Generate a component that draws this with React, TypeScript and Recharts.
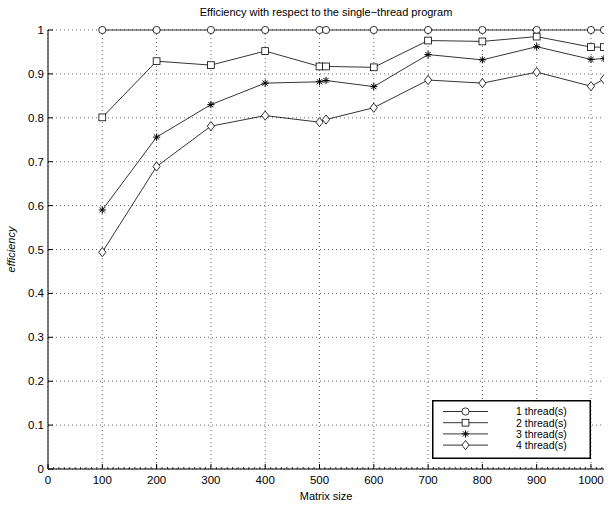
import React from "react";
import { LineChart, Line, XAxis, YAxis, CartesianGrid, Legend } from "recharts";

const sizes = [100, 200, 300, 400, 500, 512, 600, 700, 800, 900, 1000, 1024];
const thread1 = [1, 1, 1, 1, 1, 1, 1, 1, 1, 1, 1, 1];
const thread2 = [0.801, 0.929, 0.92, 0.952, 0.917, 0.917, 0.915, 0.976, 0.974, 0.985, 0.961, 0.961];
const thread3 = [0.59, 0.756, 0.83, 0.879, 0.882, 0.885, 0.871, 0.944, 0.932, 0.962, 0.933, 0.935];
const thread4 = [0.494, 0.689, 0.781, 0.805, 0.79, 0.796, 0.823, 0.886, 0.879, 0.904, 0.872, 0.888];
const xTicks = [0, 100, 200, 300, 400, 500, 600, 700, 800, 900, 1000];
const xMinorTicks = Array.from({ length: 103 }, (_, i) => i * 10);
const yTicks = [0, 0.1, 0.2, 0.3, 0.4, 0.5, 0.6, 0.7, 0.8, 0.9, 1];
const seriesNames = ["1 thread(s)", "2 thread(s)", "3 thread(s)", "4 thread(s)"];
const seriesKeys = ["t1", "t2", "t3", "t4"];
const markers = ["circle", "square", "star", "diamond"];

const data = sizes.map((s, i) => ({
  size: s,
  t1: thread1[i],
  t2: thread2[i],
  t3: thread3[i],
  t4: thread4[i],
}));

const FONT = "'Liberation Sans', Arial, Helvetica, sans-serif";

function Marker({ kind, cx, cy }: { kind: string; cx: number; cy: number }) {
  const st = { stroke: "#000", strokeWidth: 0.8 };
  if (kind === "circle") return <circle cx={cx} cy={cy} r={3.6} {...st} fill="#fff" />;
  if (kind === "square")
    return <rect x={cx - 3.4} y={cy - 3.4} width={6.8} height={6.8} {...st} fill="#fff" />;
  if (kind === "diamond")
    return (
      <path
        d={`M${cx},${cy - 4.6} L${cx + 3.6},${cy} L${cx},${cy + 4.6} L${cx - 3.6},${cy} Z`}
        {...st}
        fill="#fff"
      />
    );
  const r = 3.6;
  const d = 2.6;
  return (
    <path
      d={`M${cx - r},${cy} L${cx + r},${cy} M${cx},${cy - r} L${cx},${cy + r} M${cx - d},${cy - d} L${cx + d},${cy + d} M${cx - d},${cy + d} L${cx + d},${cy - d}`}
      stroke="#000"
      strokeWidth={1}
      fill="none"
    />
  );
}

const makeDot = (kind: string) => (props: any) => {
  const { cx, cy, index } = props;
  if (cx == null || cy == null) return <g key={index} />;
  return (
    <g key={index}>
      <Marker kind={kind} cx={cx} cy={cy} />
    </g>
  );
};

const XTick = (props: any) => {
  const { x, y, payload } = props;
  const v = payload.value;
  if (xTicks.indexOf(v) < 0) {
    return <line x1={x} y1={y} x2={x} y2={y - 2} stroke="#000" strokeWidth={0.8} />;
  }
  return (
    <g>
      <line x1={x} y1={y} x2={x} y2={y - 5} stroke="#000" strokeWidth={1} />
      <text x={x} y={y + 15} textAnchor="middle" fontSize={11.5} fontFamily={FONT} fill="#000">
        {v}
      </text>
    </g>
  );
};

const YTick = (props: any) => {
  const { x, y, payload } = props;
  return (
    <g>
      <line x1={x} y1={y} x2={x + 5} y2={y} stroke="#000" strokeWidth={1} />
      <text x={x - 4} y={y + 4} textAnchor="end" fontSize={11.5} fontFamily={FONT} fill="#000">
        {payload.value}
      </text>
    </g>
  );
};

const LegendContent = (props: any) => {
  const payload = props.payload || [];
  return (
    <svg width={160} height={60} style={{ display: "block" }}>
      <rect x={0.75} y={0.75} width={157.5} height={57.5} fill="#fff" stroke="#000" strokeWidth={1.5} />
      {payload.map((p: any, i: number) => {
        const k = seriesKeys.indexOf(p.dataKey);
        const yy = 11.5 + i * 11.2;
        return (
          <g key={i}>
            <line x1={11} y1={yy} x2={56} y2={yy} stroke="#000" strokeWidth={0.8} />
            <Marker kind={markers[k]} cx={33.5} cy={yy} />
            <text x={84} y={yy + 3.8} fontSize={10.5} fontFamily={FONT} fill="#000">
              {p.value}
            </text>
          </g>
        );
      })}
    </svg>
  );
};

export default function App() {
  return (
    <div style={{ position: "absolute", left: 0, top: 0, width: 609, height: 507, background: "#fff" }}>
      <div
        style={{
          position: "absolute",
          left: 48,
          width: 556,
          top: 6,
          textAlign: "center",
          fontFamily: FONT,
          fontSize: 11,
          color: "#000",
          zIndex: 2,
        }}
      >
        Efficiency with respect to the single−thread program
      </div>
      <LineChart
        width={609}
        height={507}
        data={data}
        margin={{ top: 30, right: 5, bottom: 0, left: 0 }}
      >
        <CartesianGrid
          stroke="#444"
          strokeDasharray="1 3"
          strokeWidth={0.8}
          horizontalValues={yTicks}
          verticalValues={xTicks}
        />
        <XAxis
          dataKey="size"
          type="number"
          domain={[0, 1024]}
          ticks={xMinorTicks}
          tick={<XTick />}
          tickSize={0}
          tickMargin={0}
          tickLine={false}
          axisLine={{ stroke: "#000", strokeWidth: 1 }}
          height={38}
          interval={0}
          allowDataOverflow
          label={{
            value: "Matrix size",
            position: "insideBottom",
            offset: 7,
            fontSize: 11,
            fontFamily: FONT,
            fill: "#000",
          }}
        />
        <YAxis
          type="number"
          domain={[0, 1]}
          ticks={yTicks}
          tick={<YTick />}
          tickSize={0}
          tickMargin={0}
          tickLine={false}
          axisLine={{ stroke: "#000", strokeWidth: 1 }}
          width={48}
          interval={0}
          label={{
            value: "efficiency",
            angle: -90,
            position: "insideLeft",
            offset: 11,
            fontSize: 11,
            fontFamily: FONT,
            fontStyle: "italic",
            fill: "#000",
            style: { textAnchor: "middle" },
          }}
        />
        {seriesKeys.map((k, i) => (
          <Line
            key={k}
            dataKey={k}
            name={seriesNames[i]}
            stroke="#000"
            strokeWidth={0.8}
            dot={makeDot(markers[i])}
            activeDot={false}
            isAnimationActive={false}
            legendType="none"
          />
        ))}
        <Legend
          layout="horizontal"
          verticalAlign="middle"
          align="center"
          content={<LegendContent />}
          payload={seriesKeys.map((k, i) => ({ value: seriesNames[i], dataKey: k, type: "line", id: k }))}
          wrapperStyle={{ position: "absolute", left: 432, top: 400, width: 160, height: 60 }}
        />
      </LineChart>
    </div>
  );
}
